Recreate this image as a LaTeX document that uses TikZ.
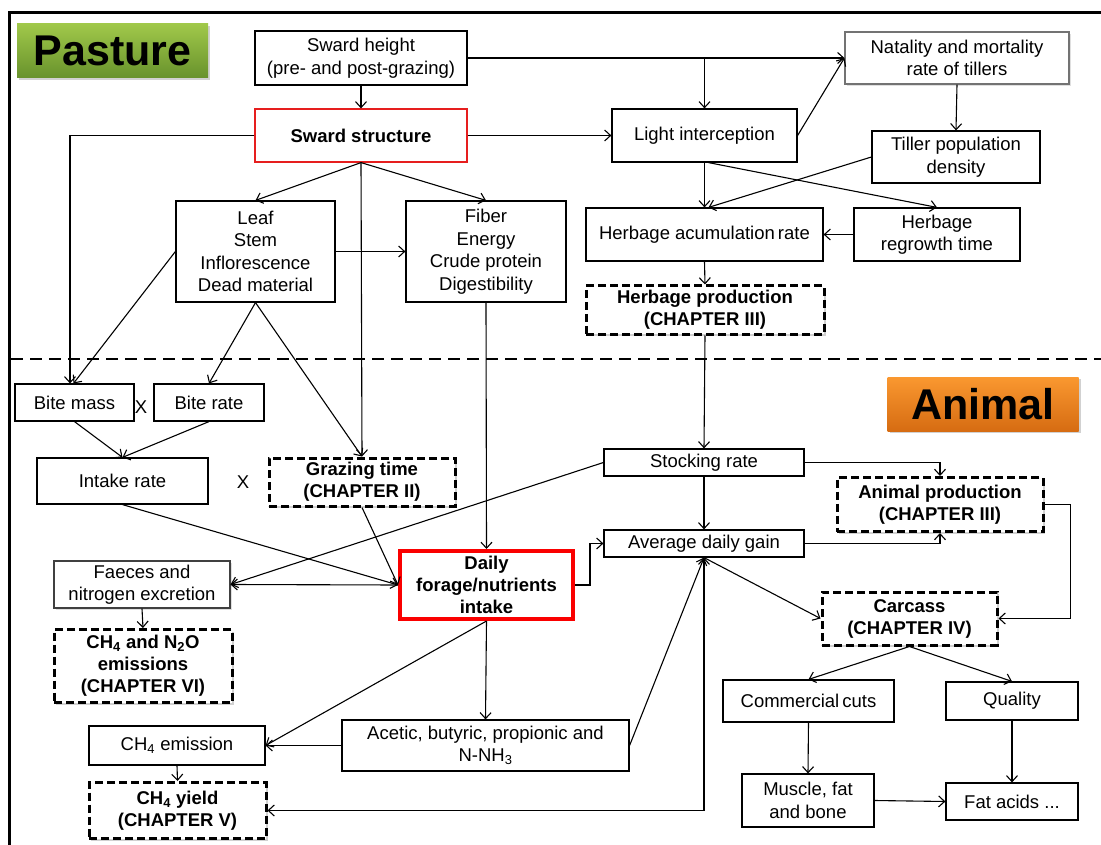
\documentclass[tikz,border=0pt]{standalone}
\usepackage{fontspec}
\setmainfont{Liberation Sans}
\usetikzlibrary{arrows.meta,shadows,calc}
\begin{document}
\begin{tikzpicture}[x=1pt,y=-1pt,
  box/.style={draw, line width=1.2pt, inner sep=0pt, align=center, fill=white,
    font=\fontsize{18.5}{22.5}\selectfont},
  chap/.style={box, line width=3pt, dash pattern=on 8pt off 4pt,
    font=\bfseries\fontsize{18.5}{22}\selectfont,
    drop shadow={opacity=0.3, shadow xshift=2pt, shadow yshift=-2pt, fill=black!60}},
  soft/.style={box, draw=black!55,
    drop shadow={opacity=0.25, shadow xshift=2pt, shadow yshift=-2pt, fill=black!50}},
  lbl/.style={inner sep=0pt, minimum width=191pt, minimum height=54pt,
    font=\bfseries\fontsize{43}{43}\selectfont,
    drop shadow={opacity=0.3, shadow xshift=2pt, shadow yshift=-2pt, fill=black!60}},
  arr/.style={-{Straight Barb[length=6pt,width=11pt]}, line width=1.1pt},
  darr/.style={{Straight Barb[length=6pt,width=11pt]}-{Straight Barb[length=6pt,width=11pt]}, line width=1.1pt},
  sep/.style={line width=2pt, dash pattern=on 12pt off 7pt},
  frame/.style={line width=3pt},
  mult/.style={inner sep=0pt, font=\fontsize{18.5}{22.5}\selectfont}
]
\useasboundingbox (0,0) rectangle (1101,845);
% frame and separator
\draw[frame] (9.5,845) -- (9.5,12.5) -- (1101,12.5);
\draw[sep] (11,359) -- (1101,359);

% labels
\node[lbl, top color={rgb,255:red,160;green,200;blue,74}, bottom color={rgb,255:red,104;green,146;blue,44}] (pasture) at (112.5,51) {Pasture};
\node[lbl, top color={rgb,255:red,250;green,152;blue,48}, bottom color={rgb,255:red,214;green,108;blue,18}] (animal) at (983,404) {Animal};

% pasture nodes
\node[box, minimum width=212pt, minimum height=54pt] (sh) at (361,58) {Sward height\\(pre- and post-grazing)};
\node[box, draw={rgb,255:red,230;green,30;blue,30}, minimum width=212pt, minimum height=53pt, font=\bfseries\fontsize{18.5}{22.5}\selectfont] (ss) at (361,135.5) {Sward structure};
\node[soft, minimum width=224pt, minimum height=52pt] (nat) at (957,58) {Natality and mortality\\rate of tillers};
\node[box, minimum width=185pt, minimum height=53pt] (li) at (704.5,135.5) {Light interception};
\node[box, minimum width=168pt, minimum height=52pt] (tpd) at (956,157) {Tiller population\\density};
\node[box, minimum width=159pt, minimum height=101pt] (leaf) at (255.5,251.5) {Leaf\\Stem\\Inflorescence\\Dead material};
\node[box, minimum width=160pt, minimum height=101pt] (fib) at (486,251.5) {Fiber\\Energy\\Crude protein\\Digestibility};
\node[box, minimum width=237pt, minimum height=53pt] (har) at (704.5,234.5) {Herbage acumulation\,rate};
\node[box, minimum width=166pt, minimum height=53pt] (hrt) at (937,234.5) {Herbage\\regrowth time};
\node[chap, minimum width=238pt, minimum height=48pt] (hp) at (705,310) {Herbage production\\(CHAPTER III)};

% animal nodes
\node[box, minimum width=119pt, minimum height=37pt] (bm) at (74.5,402.5) {Bite mass};
\node[mult] (x1) at (141,407) {X};
\node[box, minimum width=110pt, minimum height=37pt] (br) at (209,402.5) {Bite rate};
\node[box, minimum width=171pt, minimum height=46pt] (ir) at (122.5,481) {Intake rate};
\node[mult] (x2) at (243,482) {X};
\node[chap, minimum width=186pt, minimum height=48pt] (gt) at (362,482) {Grazing time\\(CHAPTER II)};
\node[box, minimum width=200pt, minimum height=27pt] (sr) at (704,462.5) {Stocking rate};
\node[chap, minimum width=206pt, minimum height=54pt] (ap) at (940,504.5) {Animal production\\(CHAPTER III)};
\node[box, minimum width=200pt, minimum height=27pt] (adg) at (704,543.5) {Average daily gain};
\node[box, draw={rgb,255:red,250;green,0;blue,0}, line width=4pt, minimum width=173pt, minimum height=68pt, font=\bfseries\fontsize{18.5}{22}\selectfont] (dfi) at (486.5,585) {Daily\\forage/nutrients\\intake};
\node[soft, draw=black!75, minimum width=176pt, minimum height=47pt] (fae) at (142,584.5) {Faeces and\\nitrogen excretion};
\node[chap, minimum width=178pt, minimum height=73pt] (cn) at (143,666) {CH\textsubscript{4} and N\textsubscript{2}O\\emissions\\(CHAPTER VI)};
\node[chap, minimum width=175pt, minimum height=53pt] (car) at (909.5,618.5) {Carcass\\(CHAPTER IV)};
\node[box, minimum width=171pt, minimum height=42pt] (cc) at (808.5,701) {Commercial\,cuts};
\node[box, minimum width=132pt, minimum height=38pt] (q) at (1012,701) {Quality};
\node[box, minimum width=176pt, minimum height=39pt] (ce) at (177,745.5) {CH\textsubscript{4} emission};
\node[box, minimum width=287pt, minimum height=51pt] (ac) at (485.5,745.5) {Acetic, butyric, propionic and\\N-NH\textsubscript{3}};
\node[chap, minimum width=177pt, minimum height=56pt] (cy) at (177.5,810.5) {CH\textsubscript{4} yield\\(CHAPTER V)};
\node[box, minimum width=132pt, minimum height=53pt] (mfb) at (808,800.5) {Muscle, fat\\and bone};
\node[box, minimum width=132pt, minimum height=37pt] (fa) at (1012,801.5) {Fat acids ...};

% pasture connectors
\draw[arr] (sh.south) -- (ss.north);
\draw[arr] (sh.east) -- (nat.west);
\draw[arr] (sh.east -| li.north) -- (li.north);
\draw[arr] (li.east) -- (nat.west);
\draw[arr] (ss.east) -- (li.west);
\draw[arr] (nat.south) -- (tpd.north);
\draw[arr] (li.south) -- (har.north);
\draw[arr] ([xshift=4pt]li.south) -- (hrt.north);
\draw[arr] (tpd.west) -- ([xshift=4pt]har.north);
\draw[arr] (hrt.west) -- (har.east);
\draw[arr] (har.south) -- (hp.north);
\draw[arr] (hp.south) -- (sr.north);
\draw[arr] (ss.west) -| ([xshift=-4.5pt]bm.north);
\draw[arr] (leaf.west) -- ([xshift=-1pt]bm.north);
\draw[arr] (ss.south) -- (leaf.north);
\draw[arr] (ss.south) -- (fib.north);
\draw[arr] (ss.south) -- (gt.north);
\draw[arr] (leaf.east) -- (fib.west);
\draw[arr] (leaf.south) -- (br.north);
\draw[arr] (leaf.south) -- (gt.north);
\draw[arr] (fib.south) -- (dfi.north);

% animal connectors
\draw[arr] (bm.south) -- (ir.north);
\draw[arr] (br.south) -- (ir.north);
\draw[arr] (ir.south) -- (dfi.west);
\draw[arr] (gt.south) -- (dfi.west);
\draw[arr] (dfi.west) -- (fae.east);
\draw[arr] (sr.west) -- (fae.east);
\draw[arr] (fae.south) -- (cn.north);
\draw[arr] (dfi.south) -- (ac.north);
\draw[arr] (dfi.south) -- (ce.east);
\draw[arr] (ac.west) -- (ce.east);
\draw[arr] (ce.south) -- (cy.north);
\draw[arr] (ac.east) -- (adg.south);
\draw[darr] (adg.south) |- (cy.east);
\draw[arr] (dfi.east) -- ++(15,0) |- (adg.west);
\draw[arr] (sr.south) -- (adg.north);
\draw[arr] (sr.east) -| (ap.north);
\draw[arr] (adg.east) -| (ap.south);
\draw[arr] (ap.east) -- ++(26,0) |- (car.east);
\draw[arr] (adg.south) -- (car.west);
\draw[arr] (car.south) -- (cc.north);
\draw[arr] (car.south) -- (q.north);
\draw[arr] (cc.south) -- (mfb.north);
\draw[arr] (q.south) -- (fa.north);
\draw[arr] (mfb.east) -- (fa.west);
\end{tikzpicture}
\end{document}
